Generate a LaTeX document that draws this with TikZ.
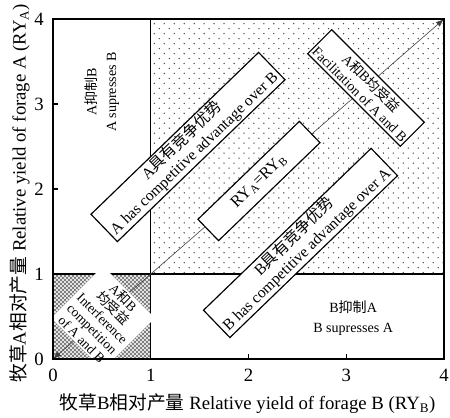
\documentclass[tikz,border=0pt]{standalone}
\usepackage{fontspec}
\setmainfont{Liberation Serif}
\newfontfamily\cjk{Noto Sans CJK SC}
\usetikzlibrary{patterns,arrows.meta}
\newcommand{\zh}[1]{{\cjk #1}}

% sparse staggered dots for the facilitation area
\pgfdeclarepatternformonly{sparsedots}{\pgfqpoint{-0.8pt}{-0.8pt}}{\pgfqpoint{5.1pt}{5.1pt}}{\pgfqpoint{8.5pt}{8.5pt}}{%
  \pgfpathcircle{\pgfpointorigin}{0.65pt}%
  \pgfpathcircle{\pgfqpoint{4.25pt}{4.25pt}}{0.65pt}%
  \pgfusepath{fill}}
% dense diagonal mesh for the interference area
\pgfdeclarepatternformonly{diamondmesh}{\pgfqpoint{0pt}{0pt}}{\pgfqpoint{3.4pt}{3.4pt}}{\pgfqpoint{3.4pt}{3.4pt}}{%
  \pgfsetlinewidth{0.7pt}%
  \pgfpathmoveto{\pgfqpoint{-0.2pt}{-0.2pt}}\pgfpathlineto{\pgfqpoint{3.6pt}{3.6pt}}%
  \pgfpathmoveto{\pgfqpoint{-0.2pt}{3.6pt}}\pgfpathlineto{\pgfqpoint{3.6pt}{-0.2pt}}%
  \pgfusepath{stroke}}

\tikzset{
  regionbox/.style={draw, line width=1pt, fill=white, align=center, inner sep=1pt,
    font=\fontsize{13.3}{15}\selectfont},
  regiontext/.style={align=center, font=\fontsize{12}{17}\selectfont},
  ticklabel/.style={font=\fontsize{16}{16}\selectfont},
  axislabel/.style={font=\fontsize{16}{16}\selectfont},
}

\begin{document}
\begin{tikzpicture}[x=2.9325cm,y=2.55cm]
\useasboundingbox (-0.5422,-0.6824) rectangle (4.0614,4.2235);
\coordinate (o) at (0,0);
\coordinate (m) at (1,1);
\coordinate (t) at (4,4);
\coordinate (xa) at (1,0);
\coordinate (xb) at (1,4);
\coordinate (ya) at (0,1);
\coordinate (yb) at (4,1);

% shaded areas
\fill[pattern=sparsedots, pattern color=black!70] (m) rectangle (t);
\fill[pattern=diamondmesh, pattern color=gray] (o) rectangle (m);

% dividing lines and the 1:1 line
\draw[line width=1pt] (xa) -- (xb);
\draw[line width=1pt] (ya) -- (yb);
\draw[black!75, line width=0.5pt, {Latex[length=7pt,width=5pt]}-{Latex[length=7pt,width=5pt]}] (o) -- (t);

\node[regionbox, rotate=44, minimum width=6.99cm, minimum height=1.14cm] (advA) at (1.381,2.494)
  {A\zh{具有竞争优势}\\A has competitive advantage over B};
\node[regionbox, rotate=44, minimum width=4.23cm, minimum height=0.89cm, font=\fontsize{14}{15}\selectfont] (equal) at (2.107,2.094)
  {RY\textsubscript{A}=RY\textsubscript{B}};
\node[regionbox, rotate=44, minimum width=6.99cm, minimum height=1.14cm] (advB) at (2.532,1.365)
  {B\zh{具有竞争优势}\\B has competitive advantage over A};
\node[regionbox, rotate=-45, minimum width=3.93cm, minimum height=1.02cm, font=\fontsize{11.8}{13.5}\selectfont] (facil) at (3.202,3.188)
  {A\zh{和}B\zh{均受益}\\Facilitation of A and B};
\node[fill=white, rotate=-45, minimum size=2.2cm, align=center, inner sep=0pt,
  font=\fontsize{11.5}{12.5}\selectfont] (interf) at (0.512,0.482)
  {A\zh{和}B\\\zh{均受益}\\Interference\\competition\\of A and B};

\node[regiontext, rotate=90] (supA) at (0.50,3.14) {A\zh{抑制}B\\A supresses B};
\node[regiontext] (supB) at (3.07,0.48) {B\zh{抑制}A\\B supresses A};

% frame and ticks
\draw[line width=1.3pt] (o) rectangle (t);
\foreach \k in {1,2,3} {
  \draw[line width=1pt] (\k,0) -- ++(0,0.06);
  \draw[line width=1pt] (0,\k) -- ++(0.05,0);
}
\foreach \k in {0,...,4} {
  \node[ticklabel] (xl\k) at (\k,-0.19) {\k};
  \node[ticklabel] (yl\k) at (-0.143,\k) {\k};
}

\node[axislabel] (xtitle) at (1.99,-0.53)
  {\zh{牧草}B\zh{相对产量} Relative yield of forage B (RY\textsubscript{B})};
\node[axislabel, rotate=90] (ytitle) at (-0.34,1.95)
  {\zh{牧草}A\zh{相对产量} Relative yield of forage A (RY\textsubscript{A})};
\end{tikzpicture}
\end{document}
